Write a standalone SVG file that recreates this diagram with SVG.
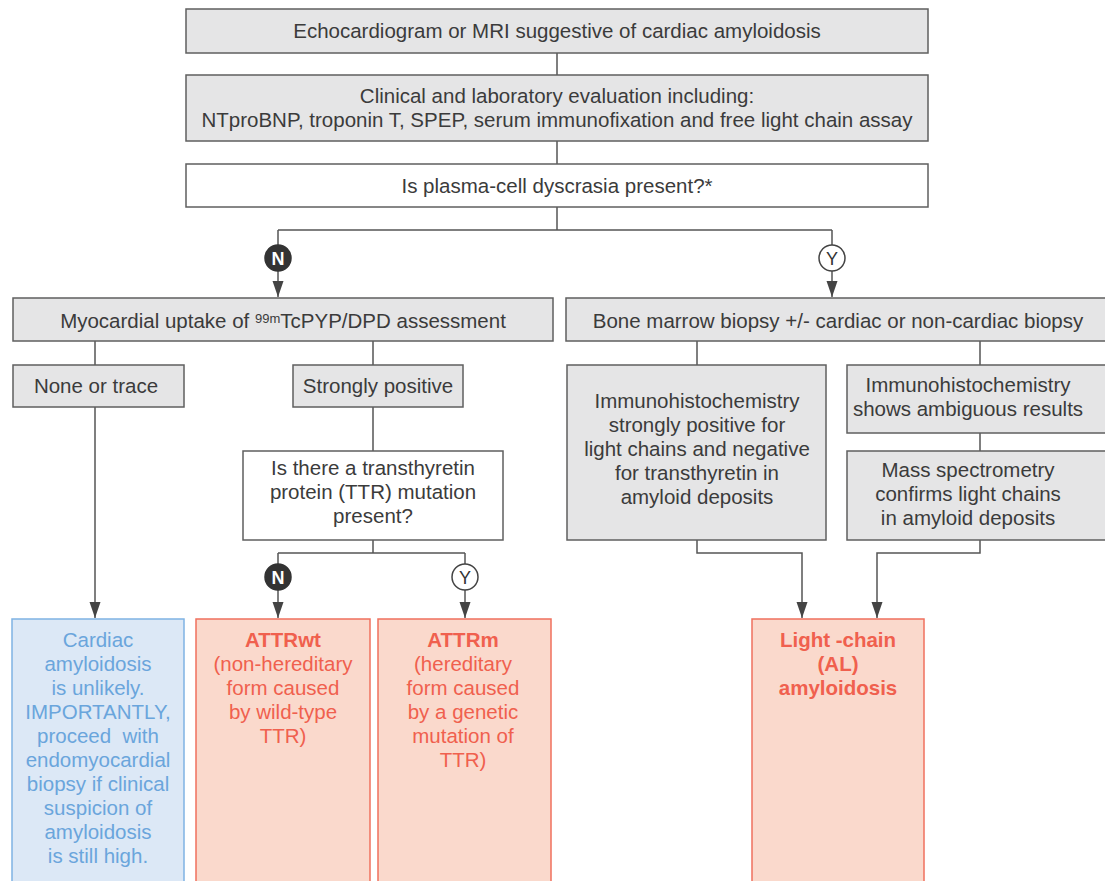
<svg xmlns="http://www.w3.org/2000/svg" width="1105" height="881" viewBox="0 0 1105 881">
<style>
.g{fill:#e5e5e6;stroke:#5f5f5f;stroke-width:1.5}
.w{fill:#ffffff;stroke:#5f5f5f;stroke-width:1.5}
.b{fill:#dce8f6;stroke:#7fb3e3;stroke-width:1.5}
.r{fill:#fad9cc;stroke:#f0705e;stroke-width:1.5}
text{font-family:"Liberation Sans",Arial,sans-serif;font-size:20.5px;text-anchor:middle;fill:#3b3b3b}
.bt{fill:#6aa5dc}
.rt{fill:#f0604e}
.bold{font-weight:bold}
.ln{fill:none;stroke:#555;stroke-width:1.5}
.ah{fill:#444}
.cn{fill:#333;stroke:#333;stroke-width:1.5}
.cy{fill:#fff;stroke:#444;stroke-width:1.5}
.nt{fill:#fff;font-weight:bold;font-size:18px}
.yt{fill:#333;font-size:18px}
</style>
<g id="connectors">
<path class="ln" d="M557,53 V75"/>
<path class="ln" d="M557,141 V164"/>
<path class="ln" d="M557,207 V230 M278,230 H832"/>
<path class="ln" d="M278,230 V245"/>
<path class="ln" d="M832,230 V245"/>
<path class="ln" d="M278,271 V297"/>
<path class="ah" d="M272.5,281 L283.5,281 L278,297 Z"/>
<path class="ln" d="M832,271 V297"/>
<path class="ah" d="M826.5,281 L837.5,281 L832,297 Z"/>
<path class="ln" d="M95,341 V365"/>
<path class="ln" d="M373,341 V365"/>
<path class="ln" d="M95,407 V618"/>
<path class="ah" d="M89.5,602 L100.5,602 L95,618 Z"/>
<path class="ln" d="M373,407 V451"/>
<path class="ln" d="M373,540 V553 M278,553 H465 M278,553 V564 M465,553 V564"/>
<path class="ln" d="M278,590 V618"/>
<path class="ah" d="M272.5,602 L283.5,602 L278,618 Z"/>
<path class="ln" d="M465,590 V618"/>
<path class="ah" d="M459.5,602 L470.5,602 L465,618 Z"/>
<path class="ln" d="M697,341 V365"/>
<path class="ln" d="M980,341 V365"/>
<path class="ln" d="M980,433 V451"/>
<path class="ln" d="M697,540 V553 H802 V618"/>
<path class="ah" d="M796.5,602 L807.5,602 L802,618 Z"/>
<path class="ln" d="M980,540 V553 H877 V618"/>
<path class="ah" d="M871.5,602 L882.5,602 L877,618 Z"/>
</g>
<g id="n-echo">
<rect class="g" x="186" y="9" width="742" height="44"/>
<text x="557" y="38">Echocardiogram or MRI suggestive of cardiac amyloidosis</text>
</g>
<g id="n-clinical">
<rect class="g" x="186" y="75" width="742" height="66"/>
<text x="557" y="103">Clinical and laboratory evaluation including:</text>
<text x="557" y="127">NTproBNP, troponin T, SPEP, serum immunofixation and free light chain assay</text>
</g>
<g id="n-plasma">
<rect class="w" x="186" y="164" width="742" height="43"/>
<text x="557" y="193">Is plasma-cell dyscrasia present?*</text>
</g>
<g id="b-n1">
<circle class="cn" cx="278" cy="258" r="13"/>
<text class="nt" x="278" y="264.5">N</text>
</g>
<g id="b-y1">
<circle class="cy" cx="832" cy="258" r="13"/>
<text class="yt" x="832" y="264.5">Y</text>
</g>
<g id="n-myo">
<rect class="g" x="13" y="298" width="540" height="43"/>
<text x="283" y="328">Myocardial uptake of <tspan font-size="13" dy="-5">99m</tspan><tspan dy="5">TcPYP/DPD assessment</tspan></text>
</g>
<g id="n-bone">
<rect class="g" x="566" y="298" width="545" height="43"/>
<text x="838" y="328">Bone marrow biopsy +/- cardiac or non-cardiac biopsy</text>
</g>
<g id="n-none">
<rect class="g" x="13" y="365" width="171" height="42"/>
<text x="96" y="393">None or trace</text>
</g>
<g id="n-strong">
<rect class="g" x="293" y="365" width="170" height="42"/>
<text x="378" y="393">Strongly positive</text>
</g>
<g id="n-ttr">
<rect class="w" x="243" y="451" width="260" height="89"/>
<text x="373" y="475">Is there a transthyretin</text>
<text x="373" y="499">protein (TTR) mutation</text>
<text x="373" y="523">present?</text>
</g>
<g id="b-n2">
<circle class="cn" cx="278" cy="577" r="13"/>
<text class="nt" x="278" y="583.5">N</text>
</g>
<g id="b-y2">
<circle class="cy" cx="465" cy="577" r="13"/>
<text class="yt" x="465" y="583.5">Y</text>
</g>
<g id="n-ihc1">
<rect class="g" x="567" y="365" width="259" height="175"/>
<text x="697" y="408">Immunohistochemistry</text>
<text x="697" y="432">strongly positive for</text>
<text x="697" y="456">light chains and negative</text>
<text x="697" y="480">for transthyretin in</text>
<text x="697" y="504">amyloid deposits</text>
</g>
<g id="n-ihc2">
<rect class="g" x="847" y="365" width="264" height="68"/>
<text x="968" y="392">Immunohistochemistry</text>
<text x="968" y="416">shows ambiguous results</text>
</g>
<g id="n-mass">
<rect class="g" x="847" y="451" width="264" height="89"/>
<text x="968" y="477">Mass spectrometry</text>
<text x="968" y="501">confirms light chains</text>
<text x="968" y="525">in amyloid deposits</text>
</g>
<g id="n-unlikely">
<rect class="b" x="12" y="619" width="172" height="270"/>
<text class="bt" x="98" y="647">Cardiac</text>
<text class="bt" x="98" y="671">amyloidosis</text>
<text class="bt" x="98" y="695">is unlikely.</text>
<text class="bt" x="98" y="719">IMPORTANTLY,</text>
<text class="bt" x="98" y="743" xml:space="preserve">proceed  with</text>
<text class="bt" x="98" y="767">endomyocardial</text>
<text class="bt" x="98" y="791">biopsy if clinical</text>
<text class="bt" x="98" y="815">suspicion of</text>
<text class="bt" x="98" y="839">amyloidosis</text>
<text class="bt" x="98" y="863">is still high.</text>
</g>
<g id="n-attrwt">
<rect class="r" x="196" y="619" width="174" height="270"/>
<text class="rt bold" x="283" y="647">ATTRwt</text>
<text class="rt" x="283" y="671">(non-hereditary</text>
<text class="rt" x="283" y="695">form caused</text>
<text class="rt" x="283" y="719">by wild-type</text>
<text class="rt" x="283" y="743">TTR)</text>
</g>
<g id="n-attrm">
<rect class="r" x="378" y="619" width="173" height="270"/>
<text class="rt bold" x="463" y="647">ATTRm</text>
<text class="rt" x="463" y="671">(hereditary</text>
<text class="rt" x="463" y="695">form caused</text>
<text class="rt" x="463" y="719">by a genetic</text>
<text class="rt" x="463" y="743">mutation of</text>
<text class="rt" x="463" y="767">TTR)</text>
</g>
<g id="n-al">
<rect class="r" x="752" y="619" width="172" height="270"/>
<text class="rt bold" x="838" y="647">Light -chain</text>
<text class="rt bold" x="838" y="671">(AL)</text>
<text class="rt bold" x="838" y="695">amyloidosis</text>
</g>
</svg>
